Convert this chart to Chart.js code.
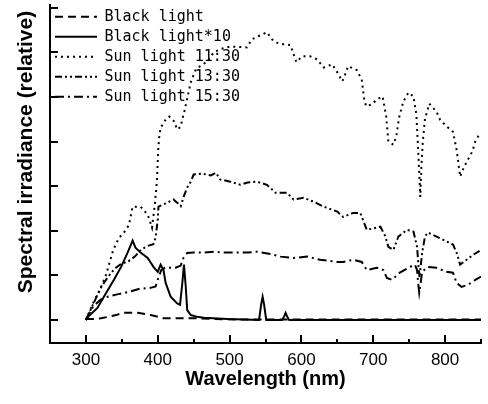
<!DOCTYPE html>
<html>
<head>
<meta charset="utf-8">
<script src="https://cdn.jsdelivr.net/npm/chart.js@4.4.0/dist/chart.umd.min.js"></script>
<style>
  body { margin: 0; background: #fff; }
  #wrap { width: 488px; height: 404px; }
</style>
</head>
<body>
<div id="wrap"><canvas id="spectrumChart"></canvas></div>
<script>
/* ------------------------------
   DATA
--------------------------------*/

const blackNm = [300, 310, 321, 331, 342, 351, 362, 372, 383, 390, 401, 408, 421, 436, 450, 480, 520, 850];
const blackVal = [0.02, 0.02, 0.04, 0.07, 0.11, 0.16, 0.16, 0.16, 0.13, 0.11, 0.07, 0.04, 0.04, 0.04, 0.04, 0.02, 0.01, 0.01];

const black10Nm = [300, 303, 316, 325, 339, 349, 358, 365, 369, 376, 386, 394, 400, 404, 408, 411, 418, 427, 431, 434, 436.5, 439, 441, 446, 455, 464, 497, 541, 544, 546, 548, 551, 573, 576, 578, 580, 583, 850];
const black10Val = [0, 0.07, 0.27, 0.52, 0.90, 1.19, 1.51, 1.78, 1.62, 1.51, 1.39, 1.19, 1.08, 1.24, 1.12, 0.83, 0.52, 0.37, 0.34, 0.79, 1.24, 0.74, 0.22, 0.11, 0.07, 0.05, 0.02, 0, 0.35, 0.52, 0.35, 0, 0, 0.08, 0.16, 0.08, 0, 0];

const sun1130Nm = [300, 310, 318, 324, 328, 338, 346, 353, 360, 365, 376, 386, 392, 396, 399, 400.5, 402, 404, 411, 416, 423, 427, 432, 434, 437, 446, 453, 469, 478, 487, 501, 512, 524, 531, 540, 552, 559, 564, 575, 585, 589, 593, 601, 612, 622, 631, 643, 650, 657, 661, 665, 677, 684, 687, 690, 698, 705, 713, 718, 720, 721, 728, 732, 736, 742, 749, 756, 760, 762, 764, 765.5, 767, 769, 772, 778, 788, 793, 802, 811, 816, 821, 826, 832, 838, 842, 849];
const sun1130Val = [0, 0.38, 0.63, 0.85, 1.01, 1.57, 1.84, 1.96, 2.13, 2.54, 2.54, 2.36, 2.07, 2.6, 3.15, 3.78, 4.1, 4.31, 4.49, 4.56, 4.45, 4.27, 4.33, 4.49, 4.67, 5.33, 5.62, 5.80, 6.00, 6.07, 6.13, 6.12, 6.11, 6.29, 6.36, 6.45, 6.29, 6.22, 6.18, 6.16, 5.96, 5.78, 5.91, 5.91, 5.84, 5.66, 5.73, 5.55, 5.35, 5.51, 5.69, 5.60, 5.39, 4.99, 4.79, 4.83, 4.94, 5.01, 4.56, 4.20, 4.00, 3.93, 4.11, 4.54, 4.90, 5.10, 5.01, 4.61, 3.98, 3.3, 2.76, 3.44, 4.0, 4.5, 4.85, 4.67, 4.49, 4.34, 4.22, 3.82, 3.21, 3.42, 3.60, 3.78, 4.00, 4.20];

const sun1330Nm = [300, 310, 320, 330, 340, 350, 358, 368, 377, 386, 394, 397, 400, 401, 412, 422, 427, 432, 436, 441, 446, 450, 462, 474, 481, 487, 501, 515, 525, 538, 552, 564, 580, 589, 603, 617, 631, 650, 658, 672, 682, 691, 710, 717, 721, 728, 735, 747, 756, 761, 763, 764.5, 766, 768, 772, 776, 783, 797, 811, 816, 821, 830, 839, 850];
const sun1330Val = [0, 0.35, 0.7, 0.95, 1.15, 1.27, 1.30, 1.42, 1.58, 1.66, 1.70, 1.85, 2.25, 2.54, 2.62, 2.70, 2.63, 2.55, 2.76, 2.97, 3.10, 3.26, 3.28, 3.24, 3.30, 3.15, 3.10, 3.03, 3.08, 3.10, 3.03, 2.85, 2.85, 2.70, 2.74, 2.65, 2.54, 2.43, 2.31, 2.40, 2.40, 2.02, 2.09, 1.87, 1.64, 1.57, 1.87, 2.02, 1.98, 1.64, 1.2, 0.95, 1.2, 1.5, 1.87, 1.96, 1.91, 1.80, 1.69, 1.51, 1.24, 1.35, 1.46, 1.57];

const sun1530Nm = [300, 310, 320, 330, 345, 360, 375, 390, 397, 401, 405, 410, 425, 432, 436, 441, 450, 464, 478, 492, 506, 525, 538, 557, 571, 589, 608, 626, 650, 658, 672, 684, 691, 705, 714, 719, 726, 737, 751, 758, 761, 762.5, 764, 766, 768, 776, 788, 802, 811, 816, 823, 832, 842, 850];
const sun1530Val = [0, 0.3, 0.45, 0.52, 0.58, 0.63, 0.70, 0.72, 0.75, 0.95, 1.12, 1.17, 1.17, 1.22, 1.4, 1.5, 1.51, 1.51, 1.53, 1.51, 1.51, 1.51, 1.53, 1.48, 1.42, 1.39, 1.42, 1.35, 1.30, 1.30, 1.35, 1.30, 1.12, 1.17, 1.12, 0.94, 0.90, 1.06, 1.19, 1.24, 1.12, 0.83, 0.61, 0.83, 1.08, 1.19, 1.17, 1.08, 1.06, 0.83, 0.74, 0.79, 0.90, 0.97];

// axis ticks
const xMajorTicks = [300, 400, 500, 600, 700, 800];
const xMinorTicks = [350, 450, 550, 650, 750, 850];
const yTickValues = [0, 1, 2, 3, 4, 5, 6, 7];

/* ------------------------------
   HELPERS
--------------------------------*/

function toPoints(nm, vals) {
    return nm.map((w, i) => ({ x: w, y: vals[i] }));
}

function lineSet(label, nm, vals, dash) {
    return {
        label: label,
        data: toPoints(nm, vals),
        borderColor: "#000",
        backgroundColor: "#000",
        borderWidth: 2,
        borderDash: dash,
        pointRadius: 0,
        tension: 0,
        fill: false
    };
}

// legend samples should carry the dataset dash pattern
function legendLabels(chart) {
    const items = Chart.defaults.plugins.legend.labels.generateLabels(chart);
    return items.map(item => {
        const ds = chart.data.datasets[item.datasetIndex];
        item.lineDash = ds.borderDash;
        item.lineWidth = ds.borderWidth;
        item.strokeStyle = ds.borderColor;
        return item;
    });
}

// tick marks pointing into the plot, like the printed figure
const inwardTicks = {
    id: "inwardTicks",
    afterDraw(chart) {
        const { ctx, scales: { x, y } } = chart;
        const bottom = chart.chartArea.bottom;
        const left = chart.chartArea.left;
        ctx.save();
        ctx.strokeStyle = "#000";
        ctx.lineWidth = 2;
        ctx.beginPath();
        xMajorTicks.forEach(v => {
            const px = Math.round(x.getPixelForValue(v));
            ctx.moveTo(px, bottom);
            ctx.lineTo(px, bottom - 8);
        });
        xMinorTicks.forEach(v => {
            const px = Math.round(x.getPixelForValue(v));
            ctx.moveTo(px, bottom);
            ctx.lineTo(px, bottom - 4);
        });
        yTickValues.forEach(v => {
            const py = Math.round(y.getPixelForValue(v));
            ctx.moveTo(left, py);
            ctx.lineTo(left + 8, py);
        });
        ctx.stroke();
        ctx.restore();
    }
};

/* ------------------------------
   CHART
--------------------------------*/

let ctx = document.getElementById("spectrumChart");

let spectrumChart = new Chart(ctx, {
    type: "line",
    data: {
        datasets: [
            lineSet("Black light", blackNm, blackVal, [8, 5]),
            lineSet("Black light*10", black10Nm, black10Val, []),
            lineSet("Sun light 11:30", sun1130Nm, sun1130Val, [2, 4]),
            lineSet("Sun light 13:30", sun1330Nm, sun1330Val, [7, 3, 2, 3, 2, 3]),
            lineSet("Sun light 15:30", sun1530Nm, sun1530Val, [9, 4, 2, 4])
        ]
    },
    options: {
        responsive: true,
        maintainAspectRatio: false,
        animation: false,
        layout: { padding: { top: 5, right: 7, left: 0, bottom: 0 } },
        plugins: {
            tooltip: { enabled: false },
            legend: {
                position: "chartArea",
                align: "start",
                title: { display: true, text: "", padding: { top: 3, bottom: 0 }, font: { size: 1 } },
                labels: {
                    usePointStyle: true,
                    pointStyle: "line",
                    pointStyleWidth: 42,
                    padding: 5,
                    color: "#000",
                    font: { family: "DejaVu Sans Mono", size: 15 },
                    generateLabels: legendLabels
                }
            }
        },
        scales: {
            x: {
                type: "linear",
                min: 250,
                max: 850,
                afterBuildTicks: scale => { scale.ticks = xMajorTicks.map(v => ({ value: v })); },
                afterFit: scale => { scale.height = 61; },
                grid: { display: false, drawTicks: false },
                border: { display: true, color: "#000", width: 2 },
                ticks: {
                    color: "#000",
                    padding: 7,
                    maxRotation: 0,
                    font: { family: "Liberation Sans", size: 17 }
                },
                title: {
                    display: true,
                    text: "Wavelength (nm)",
                    color: "#000",
                    padding: { bottom: 13 },
                    font: { family: "Liberation Sans", size: 20, weight: "bold" }
                }
            },
            y: {
                min: -0.516,
                max: 7.06,
                afterFit: scale => { scale.width = 50; },
                grid: { display: false, drawTicks: false },
                border: { display: true, color: "#000", width: 2 },
                ticks: { display: false },
                title: {
                    display: true,
                    text: "Spectral irradiance (relative) ",
                    align: "end",
                    color: "#000",
                    padding: { top: 14 },
                    font: { family: "Liberation Sans", size: 21, weight: "bold" }
                }
            }
        }
    },
    plugins: [inwardTicks]
});
</script>
</body>
</html>
